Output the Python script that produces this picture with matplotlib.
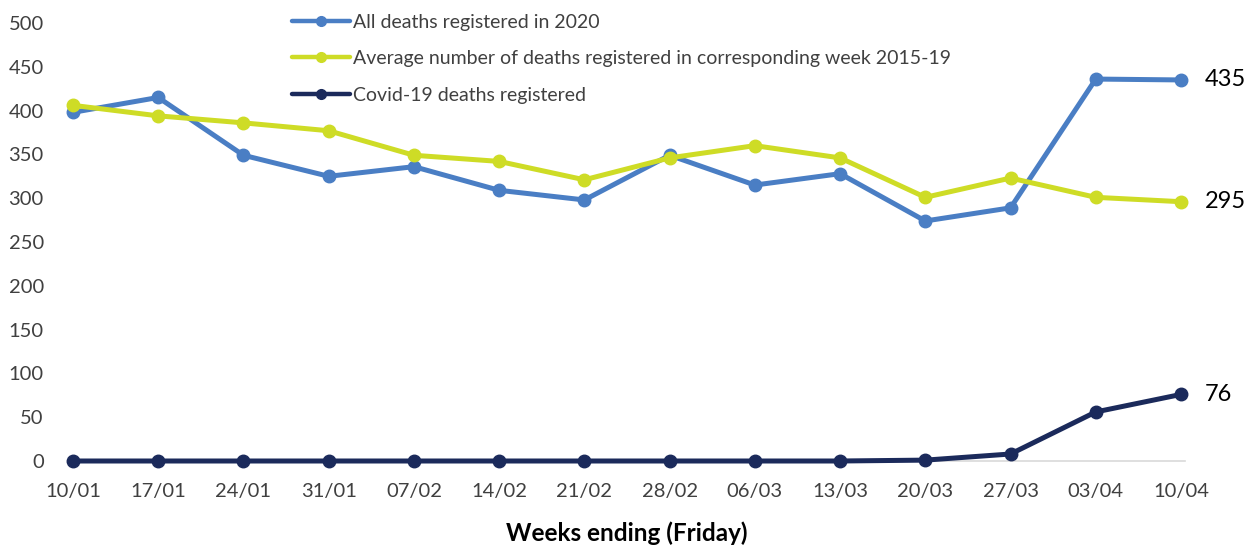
import matplotlib.pyplot as plt

plt.rcParams['font.family'] = ['Lato', 'DejaVu Sans']

weeks = ["10/01", "17/01", "24/01", "31/01", "07/02", "14/02", "21/02",
         "28/02", "06/03", "13/03", "20/03", "27/03", "03/04", "10/04"]
all_deaths = [398, 415, 349, 325, 336, 309, 298, 349, 315, 328, 274, 289, 436, 435]
avg_deaths = [406, 394, 386, 377, 349, 342, 321, 346, 360, 346, 301, 323, 301, 296]
covid_deaths = [0, 0, 0, 0, 0, 0, 0, 0, 0, 0, 1, 8, 56, 76]
end_labels = ["435", "295", "76"]

blue = "#4A7EC4"
lime = "#CEDC26"
navy = "#1B2A5B"

fig = plt.figure(figsize=(12.56, 5.45), dpi=100)
ax = fig.add_axes([73 / 1256, 84 / 545, 1108 / 1256, 438 / 545])

x = list(range(len(weeks)))
series = [(all_deaths, blue, "All deaths registered in 2020"),
          (avg_deaths, lime, "Average number of deaths registered in corresponding week 2015-19"),
          (covid_deaths, navy, "Covid-19 deaths registered")]
for vals, col, lab in series:
    ax.plot(x, vals, color=col, lw=3.6, marker="o", ms=9, label=lab,
            clip_on=False, zorder=3, solid_capstyle="round")

ax.plot([-0.05, 13.05], [0, 0], color="#D9D9D9", lw=1.2, zorder=1, clip_on=False)

for (vals, col, lab), txt in zip(series, end_labels):
    ax.annotate(txt, (13, vals[-1]), xytext=(17, 0), textcoords="offset points",
                va="center", ha="left", fontsize=17, color="black")

ax.set_xlim(0, 13)
ax.set_ylim(0, 500)
ax.set_yticks(range(0, 501, 50))
ax.set_xticks(x)
ax.set_xticklabels(weeks)
for s in ax.spines.values():
    s.set_visible(False)
ax.tick_params(length=0, labelsize=14.5, colors="#404040")
ax.tick_params(axis="y", pad=21)
ax.tick_params(axis="x", pad=16)
ax.set_xlabel("Weeks ending (Friday)", fontsize=17.5, fontweight="bold",
              color="black", labelpad=15)

leg = fig.legend(loc="upper left", bbox_to_anchor=(284 / 1256, 1 - 6 / 545),
                 frameon=False, fontsize=14, handlelength=3.0, handletextpad=0.15,
                 labelspacing=1.0, borderaxespad=0)
for t in leg.get_texts():
    t.set_color("#404040")
for h in leg.legend_handles:
    h.set_markersize(7)
    h.set_linewidth(3.2)

fig.savefig("out.png", dpi=100)
